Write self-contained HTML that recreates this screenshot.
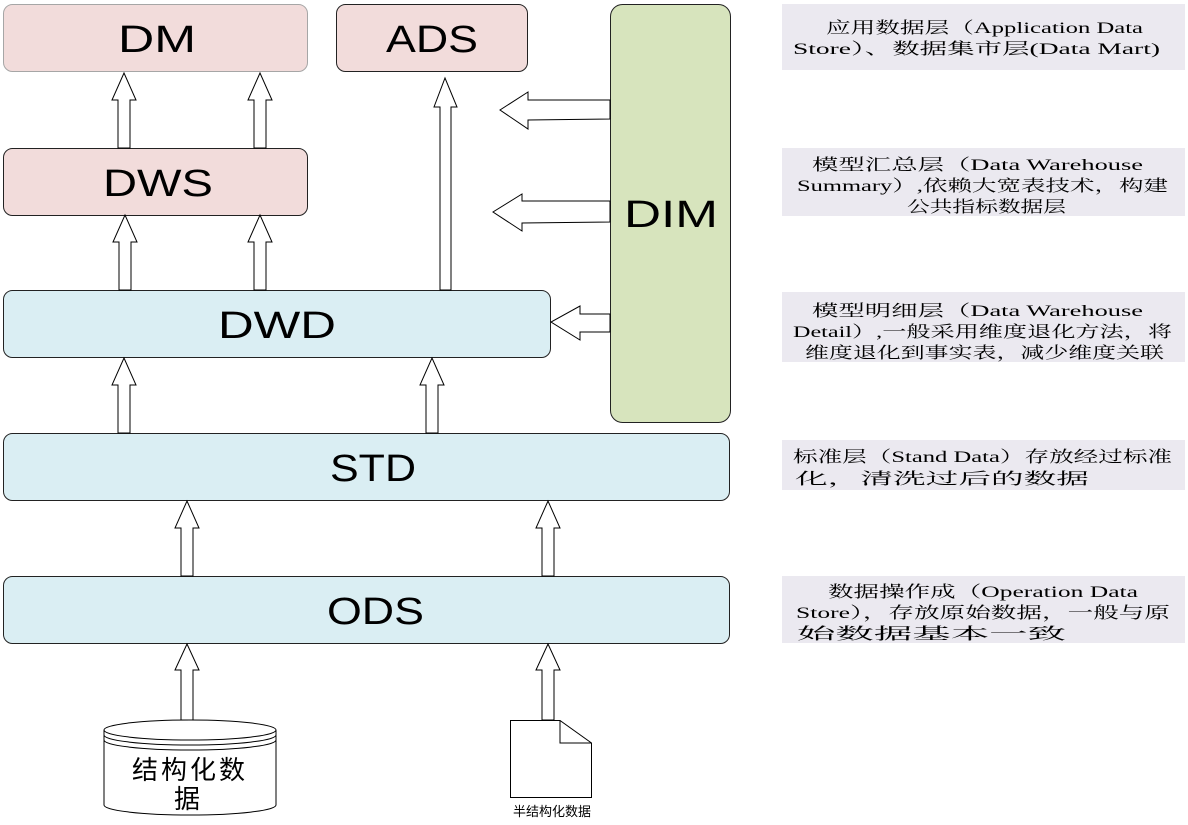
<!DOCTYPE html>
<html><head><meta charset="utf-8"><style>
html,body{margin:0;padding:0;background:#fff;}
svg{display:block}
.big{font-family:"Liberation Sans","DejaVu Sans",sans-serif;font-size:38px;fill:#000}
.note{font-family:"Liberation Serif","Noto Serif CJK SC",serif;font-size:16px;fill:#000}
.cn{font-family:"Liberation Sans","Noto Sans CJK SC",sans-serif;fill:#000;text-anchor:middle}
.arr{fill:#fff;stroke:#000;stroke-width:1}
</style></head><body>
<svg width="1188" height="825" viewBox="0 0 1188 825" xmlns="http://www.w3.org/2000/svg">
<rect x="3.5" y="4.5" width="304" height="67" rx="9" fill="#f2dcdb" stroke="#a6a6a6"/>
<text class="big" x="118" y="52" textLength="78" lengthAdjust="spacingAndGlyphs">DM</text>
<rect x="336.5" y="4.5" width="191" height="67" rx="9" fill="#f2dcdb" stroke="#222"/>
<text class="big" x="386" y="52" textLength="92" lengthAdjust="spacingAndGlyphs">ADS</text>
<rect x="3.5" y="148.5" width="304" height="67" rx="9" fill="#f2dcdb" stroke="#222"/>
<text class="big" x="103" y="196" textLength="110" lengthAdjust="spacingAndGlyphs">DWS</text>
<rect x="3.5" y="290.5" width="547" height="67" rx="9" fill="#daeef3" stroke="#222"/>
<text class="big" x="218" y="338" textLength="118" lengthAdjust="spacingAndGlyphs">DWD</text>
<rect x="3.5" y="433.5" width="726" height="67" rx="9" fill="#daeef3" stroke="#222"/>
<text class="big" x="330" y="481" textLength="86" lengthAdjust="spacingAndGlyphs">STD</text>
<rect x="3.5" y="576.5" width="726" height="67" rx="9" fill="#daeef3" stroke="#222"/>
<text class="big" x="327" y="624" textLength="97" lengthAdjust="spacingAndGlyphs">ODS</text>
<rect x="610.5" y="4.5" width="120" height="418" rx="12" fill="#d7e4bd" stroke="#222"/>
<text class="big" x="624" y="227" textLength="94" lengthAdjust="spacingAndGlyphs">DIM</text>

<g class="arr">
<polygon points="118,148 118,100 112,100 124,73 136,100 130,100 130,148"/>
<polygon points="254,148 254,100 248,100 260,73 272,100 266,100 266,148"/>
<polygon points="119,290 119,242 113,242 125,215 137,242 131,242 131,290"/>
<polygon points="254,290 254,242 248,242 260,215 272,242 266,242 266,290"/>
<polygon points="440,290 440,107 434,107 445,78 457,107 451,107 451,290"/>
<polygon points="118,433 118,385 112,385 124,358 136,385 130,385 130,433"/>
<polygon points="426,433 426,385 420,385 432,358 444,385 438,385 438,433"/>
<polygon points="181,576 181,528 175,528 187,501 199,528 193,528 193,576"/>
<polygon points="542,576 542,528 536,528 548,501 560,528 554,528 554,576"/>
<polygon points="181,720 181,670 175,670 187,644 199,670 193,670 193,720"/>
<polygon points="542,720 542,670 536,670 548,644 560,670 554,670 554,720"/>
<polygon points="610,100 528,100 528,92 500,110 528,129 528,120 610,119"/>
<polygon points="610,201 522,201 522,194 493,212 522,231 522,223 610,222"/>
<polygon points="610,314 580,314 580,306 551,322 580,340 580,332 610,332"/>
</g>

<path d="M104,730 L104,805 A86,10 0 0 0 276,805 L276,730" fill="#fff" stroke="#000"/>
<ellipse cx="190" cy="730" rx="86" ry="10" fill="#fff" stroke="#000"/>
<path d="M104,735 A86,10 0 0 0 276,735" fill="none" stroke="#000"/>
<path d="M104,740 A86,10 0 0 0 276,740" fill="none" stroke="#000"/>
<text class="cn" x="190" y="779" font-size="26" letter-spacing="3">结构化数</text>
<text class="cn" x="187" y="808" font-size="26">据</text>

<path d="M510.5,720.5 L560,720.5 L591.5,743 L591.5,797.5 L510.5,797.5 Z" fill="#fff" stroke="#000"/>
<path d="M560,720.5 L560,743 L591.5,743" fill="none" stroke="#000"/>
<text class="cn" x="552" y="816" font-size="13">半结构化数据</text>

<rect x="782" y="4" width="403" height="66" fill="#ebe9f0"/>
<text class="note" x="826" y="33" textLength="317" lengthAdjust="spacingAndGlyphs">应用数据层（Application Data</text>
<text class="note" x="793" y="54" textLength="367" lengthAdjust="spacingAndGlyphs">Store）、数据集市层(Data Mart)</text>
<rect x="782" y="148" width="403" height="68" fill="#ebe9f0"/>
<text class="note" x="812" y="170" textLength="331" lengthAdjust="spacingAndGlyphs">模型汇总层（Data Warehouse</text>
<text class="note" x="797" y="191" textLength="371" lengthAdjust="spacingAndGlyphs">Summary）,依赖大宽表技术，构建</text>
<text class="note" x="907" y="212" textLength="159" lengthAdjust="spacingAndGlyphs">公共指标数据层</text>
<rect x="782" y="292" width="403" height="70" fill="#ebe9f0"/>
<text class="note" x="812" y="316" textLength="331" lengthAdjust="spacingAndGlyphs">模型明细层（Data Warehouse</text>
<text class="note" x="793" y="337" textLength="379" lengthAdjust="spacingAndGlyphs">Detail）,一般采用维度退化方法，将</text>
<text class="note" x="805" y="358" textLength="359" lengthAdjust="spacingAndGlyphs">维度退化到事实表，减少维度关联</text>
<rect x="782" y="440" width="403" height="50" fill="#ebe9f0"/>
<text class="note" x="793" y="462" textLength="379" lengthAdjust="spacingAndGlyphs">标准层（Stand Data）存放经过标准</text>
<text class="note" x="795" y="484" textLength="294" lengthAdjust="spacingAndGlyphs">化，清洗过后的数据</text>
<rect x="782" y="576" width="403" height="67" fill="#ebe9f0"/>
<text class="note" x="828" y="597" textLength="310" lengthAdjust="spacingAndGlyphs">数据操作成（Operation Data</text>
<text class="note" x="796" y="618" textLength="374" lengthAdjust="spacingAndGlyphs">Store），存放原始数据，一般与原</text>
<text class="note" x="797" y="639" textLength="269" lengthAdjust="spacingAndGlyphs">始数据基本一致</text>
</svg>
</body></html>
